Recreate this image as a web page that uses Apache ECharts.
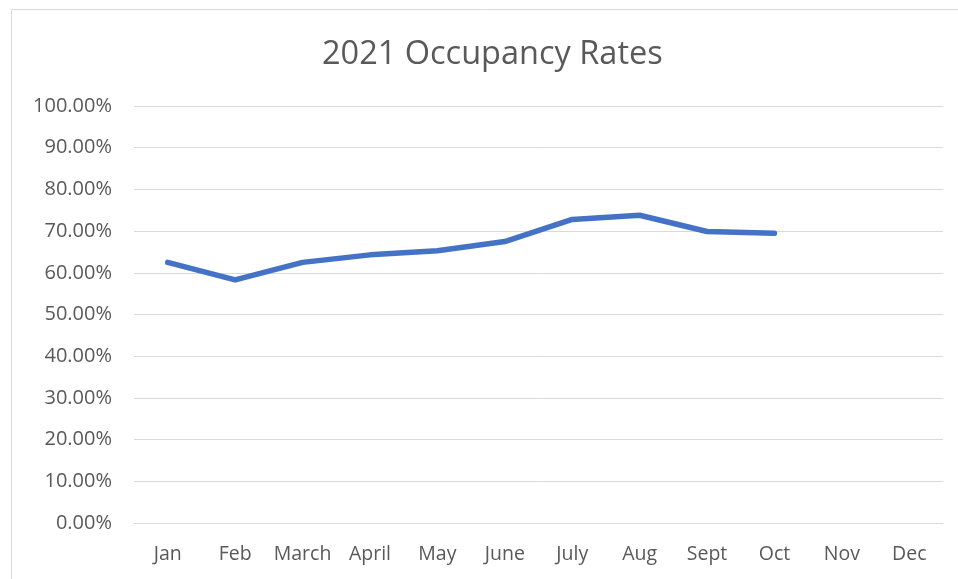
<!DOCTYPE html>
<html>
<head>
<meta charset="utf-8">
<script src="https://cdn.jsdelivr.net/npm/echarts@6/dist/echarts.min.js"></script>
<style>
  html, body { margin: 0; padding: 0; background: #fff; }
  #chart { width: 958px; height: 579px; }
</style>
</head>
<body>
<div id="chart"></div>
<script>
const months = ["Jan", "Feb", "March", "April", "May", "June", "July", "Aug", "Sept", "Oct", "Nov", "Dec"];
const occupancy = [0.625, 0.583, 0.625, 0.643, 0.653, 0.675, 0.728, 0.738, 0.699, 0.695, null, null];

const chart = echarts.init(document.getElementById("chart"));

chart.setOption({
  backgroundColor: "#fff",
  animation: false,
  textStyle: { fontFamily: "Open Sans" },
  title: {
    text: "2021 Occupancy Rates",
    left: 322,
    top: 38,
    padding: 0,
    textStyle: { fontSize: 32.5, fontWeight: "normal", color: "#595959", fontFamily: "Open Sans" }
  },
  graphic: [{
    type: "rect",
    shape: { x: 11.5, y: 9.5, width: 960, height: 600 },
    style: { fill: null, stroke: "#d9d9d9", lineWidth: 1 },
    silent: true
  }],
  grid: { left: 134, right: 15, top: 106, bottom: 56 },
  xAxis: {
    type: "category",
    data: months,
    boundaryGap: true,
    axisLine: { lineStyle: { color: "#d9d9d9", width: 1 } },
    axisTick: { show: false },
    axisLabel: { color: "#595959", fontSize: 19.5, margin: 21, interval: 0, hideOverlap: false }
  },
  yAxis: {
    type: "value",
    min: 0,
    max: 1,
    interval: 0.1,
    axisLine: { show: false },
    axisTick: { show: false },
    splitLine: { lineStyle: { color: "#d9d9d9", width: 1 } },
    axisLabel: {
      color: "#595959",
      fontSize: 20,
      margin: 22,
      formatter: v => (v * 100).toFixed(2) + "%"
    }
  },
  series: [{
    type: "line",
    data: occupancy,
    showSymbol: false,
    symbol: "none",
    connectNulls: false,
    lineStyle: { color: "#4472c4", width: 5.5, cap: "round", join: "round" }
  }]
});
</script>
</body>
</html>
